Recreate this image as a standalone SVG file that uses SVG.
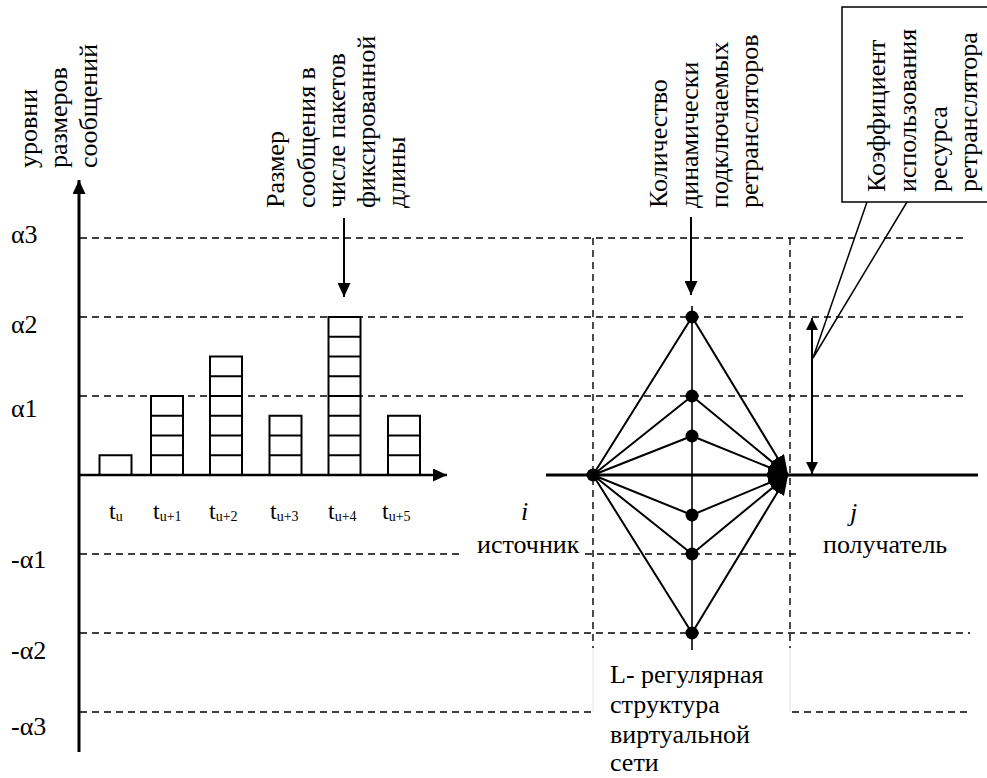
<svg xmlns="http://www.w3.org/2000/svg" width="987" height="778" viewBox="0 0 987 778" font-family="'Liberation Serif', 'Times New Roman', 'DejaVu Serif', serif">
<style>
text{font-family:'Liberation Serif','Times New Roman','DejaVu Serif',serif;font-size:26px;fill:#000}
.dash{stroke:#000;stroke-width:1.4;stroke-dasharray:7 5;fill:none}
.bar{fill:#fff;stroke:#000;stroke-width:2}
.cell{stroke:#000;stroke-width:2;fill:none}
.ln{stroke:#000;stroke-width:2;fill:none}
.t{font-size:24px}
.it{font-style:italic}
</style>
<defs>
<marker id="arr" viewBox="0 0 14 13" refX="14" refY="6.5" markerWidth="14" markerHeight="13" markerUnits="userSpaceOnUse" orient="auto"><path d="M0 0L14 6.5L0 13z"/></marker>
<marker id="arr2" viewBox="0 0 12 12" refX="12" refY="6" markerWidth="12" markerHeight="12" markerUnits="userSpaceOnUse" orient="auto-start-reverse"><path d="M0 0L12 6L0 12z"/></marker>
<marker id="fan" viewBox="0 0 20 15" refX="20" refY="7.5" markerWidth="20" markerHeight="15" markerUnits="userSpaceOnUse" orient="auto"><path d="M0 0L20 7.5L0 15z"/></marker>
</defs>
<rect width="987" height="778" fill="#fff"/>

<g id="grid">
<path class="dash" d="M80 238H968M80 317H968M80 396H968M80 554H463M585 554H800M80 633H970M80 712H593M792 712H968M593 238V648M790 238V648"/>
<path d="M593 648V712M790 648V712" stroke="#e2e2e2" stroke-width="1" fill="none"/>
</g>

<g id="bars">
<g id="bar-tu"><rect class="bar" x="99.5" y="455.25" width="32" height="19.75"/></g>
<g id="bar-tu1"><rect class="bar" x="151" y="396" width="32" height="79"/><path class="cell" d="M151 415.75h32M151 435.5h32M151 455.25h32"/></g>
<g id="bar-tu2"><rect class="bar" x="210" y="356.5" width="32" height="118.5"/><path class="cell" d="M210 376.25h32M210 396h32M210 415.75h32M210 435.5h32M210 455.25h32"/></g>
<g id="bar-tu3"><rect class="bar" x="269.5" y="415.75" width="32" height="59.25"/><path class="cell" d="M269.5 435.5h32M269.5 455.25h32"/></g>
<g id="bar-tu4"><rect class="bar" x="328.5" y="317" width="32" height="158"/><path class="cell" d="M328.5 336.75h32M328.5 356.5h32M328.5 376.25h32M328.5 396h32M328.5 415.75h32M328.5 435.5h32M328.5 455.25h32"/></g>
<g id="bar-tu5"><rect class="bar" x="388" y="415.75" width="32" height="59.25"/><path class="cell" d="M388 435.5h32M388 455.25h32"/></g>
</g>

<g id="connectors">
<line x1="79" y1="752" x2="79" y2="180" stroke="#000" stroke-width="3" marker-end="url(#arr)"/>
<line x1="79" y1="475" x2="447" y2="475" stroke="#000" stroke-width="2.5" marker-end="url(#arr)"/>
<line x1="344" y1="218" x2="344" y2="297" stroke="#000" stroke-width="2" marker-end="url(#arr)"/>
<line x1="691" y1="217" x2="691" y2="295" stroke="#000" stroke-width="2" marker-end="url(#arr)"/>
<line x1="546" y1="475" x2="978" y2="475" stroke="#000" stroke-width="3"/>
<line x1="692" y1="306" x2="692" y2="650" stroke="#000" stroke-width="1.6"/>
<path class="ln" d="M593 475L692 317M593 475L692 396M593 475L692 436M593 475L692 515M593 475L692 554M593 475L692 633"/>
<g class="ln" marker-end="url(#fan)">
<line x1="692" y1="317" x2="788" y2="475"/>
<line x1="692" y1="396" x2="788" y2="475"/>
<line x1="692" y1="436" x2="788" y2="475"/>
<line x1="593" y1="475" x2="788" y2="475"/>
<line x1="692" y1="515" x2="788" y2="475"/>
<line x1="692" y1="554" x2="788" y2="475"/>
<line x1="692" y1="633" x2="788" y2="475"/>
</g>
<line x1="812" y1="318" x2="812" y2="474" stroke="#000" stroke-width="2" marker-start="url(#arr2)" marker-end="url(#arr2)"/>
</g>

<g id="nodes-network">
<circle id="src" cx="593" cy="475" r="6.5"/>
<circle cx="692" cy="317" r="6.5"/>
<circle cx="692" cy="396" r="6.5"/>
<circle cx="692" cy="436" r="6.5"/>
<circle cx="692" cy="515" r="6.5"/>
<circle cx="692" cy="554" r="6.5"/>
<circle cx="692" cy="633" r="6.5"/>
</g>

<g id="callout">
<rect x="842" y="7" width="160" height="195" fill="#fff" stroke="#000" stroke-width="1.5"/>
<polyline points="867,202 813,358 907,202" fill="none" stroke="#000" stroke-width="1.5"/>
<text transform="translate(885,192) rotate(-90)">Коэффициент</text>
<text transform="translate(916,192) rotate(-90)">использования</text>
<text transform="translate(947,192) rotate(-90)">ресурса</text>
<text transform="translate(977,192) rotate(-90)">ретранслятора</text>
</g>

<g id="label-levels">
<text transform="translate(37,168) rotate(-90)">уровни</text>
<text transform="translate(67,168) rotate(-90)">размеров</text>
<text transform="translate(97,168) rotate(-90)">сообщений</text>
</g>

<g id="label-size">
<text transform="translate(284,208) rotate(-90)">Размер</text>
<text transform="translate(315,208) rotate(-90)">сообщения в</text>
<text transform="translate(345,208) rotate(-90)">числе пакетов</text>
<text transform="translate(375,208) rotate(-90)">фиксированной</text>
<text transform="translate(405,208) rotate(-90)">длины</text>
</g>

<g id="label-count">
<text transform="translate(667,208) rotate(-90)">Количество</text>
<text transform="translate(698,208) rotate(-90)">динамически</text>
<text transform="translate(728,208) rotate(-90)">подключаемых</text>
<text transform="translate(758,208) rotate(-90)">ретрансляторов</text>
</g>

<g id="alpha-labels">
<text x="11" y="243">α3</text>
<text x="11" y="333">α2</text>
<text x="11" y="417">α1</text>
<text x="11" y="568">-α1</text>
<text x="11" y="659">-α2</text>
<text x="11" y="735">-α3</text>
</g>

<g id="time-labels">
<text class="t" x="109" y="519">t<tspan font-size="14" dy="2">u</tspan></text>
<text class="t" x="153" y="519">t<tspan font-size="14" dy="2">u+1</tspan></text>
<text class="t" x="209" y="519">t<tspan font-size="14" dy="2">u+2</tspan></text>
<text class="t" x="270" y="519">t<tspan font-size="14" dy="2">u+3</tspan></text>
<text class="t" x="328" y="519">t<tspan font-size="14" dy="2">u+4</tspan></text>
<text class="t" x="382" y="519">t<tspan font-size="14" dy="2">u+5</tspan></text>
</g>

<g id="source">
<text class="it" x="521" y="520">i</text>
<text x="477" y="553">источник</text>
</g>

<g id="receiver">
<text class="it" x="850" y="521">j</text>
<text x="823" y="553">получатель</text>
</g>

<g id="structure-label">
<text x="610" y="683">L- регулярная</text>
<text x="610" y="713">структура</text>
<text x="610" y="743">виртуальной</text>
<text x="610" y="771">сети</text>
</g>
</svg>
